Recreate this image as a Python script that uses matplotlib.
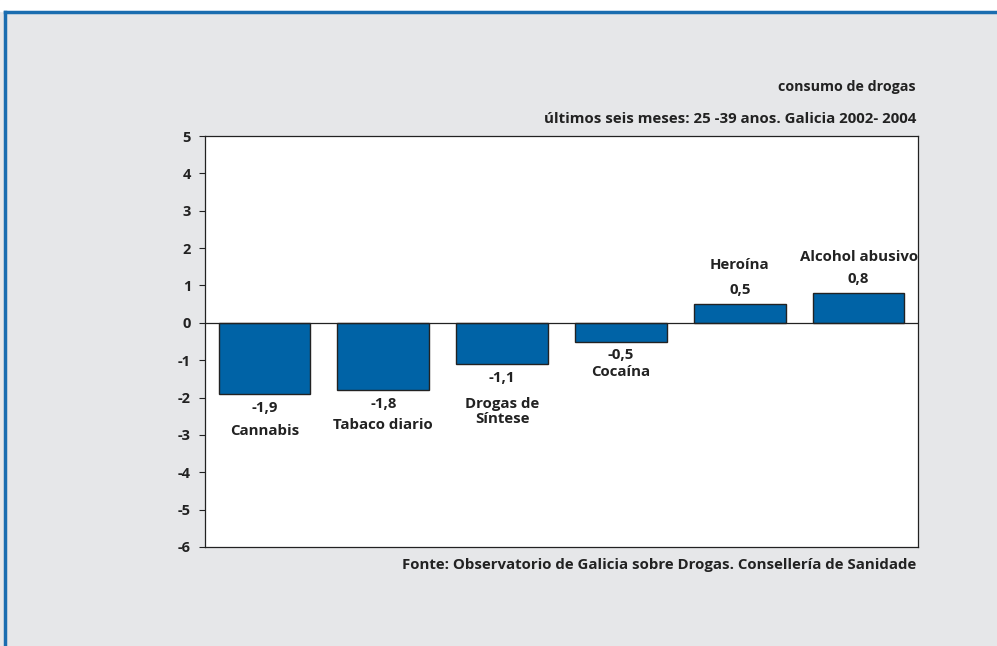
import matplotlib.pyplot as plt
from matplotlib.lines import Line2D
import numpy as np

# Variación no consumo de drogas, 25-39 anos, Galicia 2002-2004
categorias = ["Cannabis", "Tabaco diario", "Drogas de\nSíntese", "Cocaína", "Heroína", "Alcohol abusivo"]
valores = [-1.9, -1.8, -1.1, -0.5, 0.5, 0.8]
etiquetas_valor = ["-1,9", "-1,8", "-1,1", "-0,5", "0,5", "0,8"]
ticks_y = [5, 4, 3, 2, 1, 0, -1, -2, -3, -4, -5, -6]

# separación (en puntos) entre o final da barra e a etiqueta da categoría
sep_categoria = [27, 25, 34, 22, 28, 26]

azul = "#0063a6"
fondo = "#e6e7e9"
texto = "#222222"

plt.rcParams["font.family"] = ["Open Sans", "DejaVu Sans"]
plt.rcParams["font.weight"] = "bold"

fig = plt.figure(figsize=(9.97, 6.46), dpi=100, facecolor=fondo)
ax = fig.add_axes([205 / 997, 1 - 547 / 646, 713 / 997, 411 / 646])
ax.set_facecolor("white")

x = np.arange(len(valores))
ax.bar(x, valores, width=0.77, color=azul, edgecolor=texto, linewidth=1.0, zorder=2)
ax.axhline(0, color=texto, linewidth=0.9, zorder=3)

for xi, v, txt, cat, sep in zip(x, valores, etiquetas_valor, categorias, sep_categoria):
    signo = 1 if v >= 0 else -1
    ax.annotate(txt, (xi, v), xytext=(0, signo * 10), textcoords="offset points",
                ha="center", va="center", fontsize=10.8, fontweight="bold", color=texto)
    ax.annotate(cat, (xi, v), xytext=(0, signo * sep), textcoords="offset points",
                ha="center", va="center", fontsize=10.8, fontweight="bold", color=texto,
                linespacing=1.1)

ax.set_xlim(-0.5, len(valores) - 0.5)
ax.set_ylim(-6, 5)
ax.set_yticks(ticks_y)
ax.set_yticklabels([str(t) for t in ticks_y], fontsize=10.5, fontweight="bold", color=texto)
ax.set_xticks([])
ax.tick_params(axis="y", length=4, width=0.8, pad=6, color=texto)
for s in ax.spines.values():
    s.set_color(texto)
    s.set_linewidth(0.9)

fig.text(916 / 997, 1 - 87 / 646, "consumo de drogas", ha="right", va="center",
         fontsize=10.3, fontweight="bold", color=texto)
fig.text(916 / 997, 1 - 119 / 646, "últimos seis meses: 25 -39 anos. Galicia 2002- 2004",
         ha="right", va="center", fontsize=10.8, fontweight="bold", color=texto)
fig.text(916 / 997, 1 - 565 / 646,
         "Fonte: Observatorio de Galicia sobre Drogas. Consellería de Sanidade",
         ha="right", va="center", fontsize=10.8, fontweight="bold", color=texto)

# marco azul superior e esquerdo
fig.add_artist(Line2D([5 / 997, 1], [1 - 12 / 646, 1 - 12 / 646], color="#1a6db0",
                      linewidth=2.5, transform=fig.transFigure))
fig.add_artist(Line2D([5 / 997, 5 / 997], [0, 1 - 12 / 646], color="#1a6db0",
                      linewidth=2.5, transform=fig.transFigure))
# franxa branca por riba do marco
fig.add_artist(plt.Rectangle((0, 1 - 11 / 646), 1, 11 / 646, color="white",
                             transform=fig.transFigure, zorder=0))

fig.savefig("out.png", dpi=100, facecolor=fondo)
